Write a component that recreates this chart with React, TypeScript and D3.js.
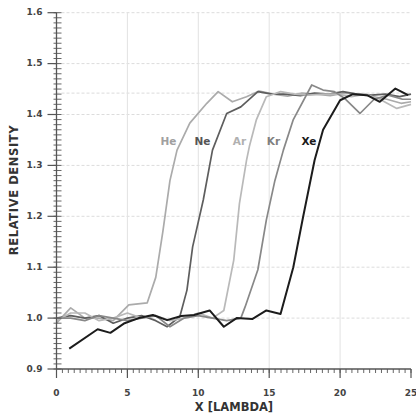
import * as d3 from 'd3'

// density profiles, [x, relative density]
const heData: [number, number][] = [
  [0, 0.99], [1, 1.02], [2, 1.0], [3, 1.0], [4, 0.995], [5.1, 1.026], [6.4, 1.03],
  [7, 1.08], [7.5, 1.17], [8, 1.27], [8.5, 1.33], [9.4, 1.383], [10.6, 1.422],
  [11.4, 1.445], [12.4, 1.425], [13.4, 1.435], [14.3, 1.446], [15.3, 1.44],
  [16.3, 1.436], [17.3, 1.442], [18.3, 1.44], [19.3, 1.437], [20.3, 1.442],
  [21.3, 1.44], [22.3, 1.435], [23.3, 1.43], [24.3, 1.422], [25, 1.425],
]
const neData: [number, number][] = [
  [0, 1.0], [1, 1.005], [2, 1.0], [3, 1.005], [4, 0.99], [5, 1.0], [6, 1.005],
  [7, 0.995], [7.8, 0.983], [8.7, 1.003], [9.2, 1.055], [9.6, 1.14], [10.35, 1.232],
  [11, 1.33], [12, 1.402], [13, 1.415], [14.2, 1.445], [15.2, 1.44], [16.2, 1.44],
  [17.2, 1.437], [18.2, 1.442], [19.2, 1.44], [20.2, 1.445], [21.2, 1.44],
  [22.2, 1.438], [23.2, 1.44], [24.2, 1.435], [25, 1.44],
]
const arData: [number, number][] = [
  [0, 0.995], [1, 1.01], [2, 1.01], [3, 0.995], [4, 1.0], [5, 1.01], [6, 1.0],
  [7, 1.005], [8, 0.995], [9, 1.0], [10, 1.01], [11, 1.0], [11.8, 1.015],
  [12.5, 1.114], [12.9, 1.225], [13.4, 1.31], [13.6, 1.337], [14.1, 1.39],
  [14.8, 1.435], [15.8, 1.445], [16.8, 1.44], [17.8, 1.438], [18.8, 1.44],
  [19.8, 1.44], [20.8, 1.435], [21.8, 1.44], [22.8, 1.43], [24, 1.412], [25, 1.42],
]
const krData: [number, number][] = [
  [0, 1.0], [1, 1.0], [2, 0.995], [3, 1.005], [4, 1.0], [5, 0.995], [6, 1.0],
  [7, 1.005], [8, 0.983], [9, 1.0], [10, 1.005], [11, 1.0], [12, 0.995], [13, 1.0],
  [13.3, 1.022], [14.2, 1.095], [14.8, 1.193], [15.4, 1.27], [16, 1.33],
  [16.7, 1.39], [18, 1.458], [18.8, 1.448], [19.6, 1.445], [20.3, 1.432],
  [21.4, 1.402], [22.4, 1.43], [23.4, 1.438], [24.4, 1.43], [25, 1.43],
]
const xeData: [number, number][] = [
  [0.9, 0.94], [2.9, 0.978], [3.8, 0.971], [4.8, 0.99], [5.8, 1.0], [6.8, 1.006],
  [7.8, 0.996], [8.8, 1.004], [9.7, 1.006], [10.8, 1.015], [11.8, 0.983],
  [12.7, 1.0], [13.8, 0.998], [14.8, 1.015], [15.8, 1.008], [16.7, 1.1],
  [17.4, 1.2], [18.2, 1.31], [18.8, 1.37], [20, 1.428], [20.9, 1.44],
  [21.9, 1.438], [22.8, 1.425], [23.9, 1.451], [24.8, 1.438],
]

const seriesNames = ['He', 'Ne', 'Ar', 'Kr', 'Xe']
const seriesData = [heData, neData, arData, krData, xeData]
const seriesColors = ['#ababab', '#5e5e5e', '#b9b9b9', '#888888', '#1c1c1c']
const labelColors = ['#a0a0a0', '#555555', '#b0b0b0', '#808080', '#1a1a1a']
// label positions in data units
const labelX = [7.9, 10.3, 12.9, 15.3, 17.8]
const labelY = 1.345

const xTicks = [0, 5, 10, 15, 20, 25]
const yTicks = [0.9, 1.0, 1.1, 1.2, 1.3, 1.4, 1.5, 1.6]
const refLevel = 1.442

const App = () => {
  const width = 416
  const height = 416

  const x = d3.scaleLinear().domain([0, 25]).range([56.5, 411])
  const y = d3.scaleLinear().domain([0.9, 1.6]).range([369, 12.7])

  const line = d3
    .line<[number, number]>()
    .x((d) => x(d[0]))
    .y((d) => y(d[1]))

  const xMinor = d3.range(0, 25.001, 5 / 12)
  const yMinor = d3.range(0.9, 1.6001, 0.01)
  const font = 'DejaVu Sans, Verdana, sans-serif'

  return (
    <svg
      width={width}
      height={height}
      style={{ position: 'absolute', left: 0, top: 0, background: '#fff' }}
    >
      {/* grid */}
      {yTicks.slice(1).map((t) => (
        <line
          key={'gy' + t}
          x1={x(0)}
          x2={x(25)}
          y1={y(t)}
          y2={y(t)}
          stroke="#dcdcdc"
          strokeDasharray="3,2"
        />
      ))}
      <line x1={x(0)} x2={x(25)} y1={y(refLevel)} y2={y(refLevel)} stroke="#dcdcdc" strokeDasharray="3,2" />
      {xTicks.slice(1, -1).map((t) => (
        <line key={'gx' + t} x1={x(t)} x2={x(t)} y1={y(1.6)} y2={y(0.9)} stroke="#e2e2e2" />
      ))}

      {/* curves */}
      {seriesData.map((d, i) => (
        <path
          key={seriesNames[i]}
          d={line(d) ?? ''}
          fill="none"
          stroke={seriesColors[i]}
          strokeWidth={i === 4 ? 2 : 1.7}
          strokeLinejoin="round"
        />
      ))}

      {/* series labels */}
      {seriesNames.map((n, i) => (
        <text
          key={'l' + n}
          x={x(labelX[i])}
          y={y(labelY)}
          textAnchor="middle"
          dominantBaseline="middle"
          fontFamily={font}
          fontWeight="bold"
          fontSize={10.5}
          fill={labelColors[i]}
        >
          {n}
        </text>
      ))}

      {/* axes */}
      <g stroke="#555" fill="none">
        <line x1={x(0)} x2={x(0)} y1={y(1.6)} y2={y(0.9)} strokeWidth={1.3} />
        <line x1={x(0)} x2={x(25)} y1={y(0.9)} y2={y(0.9)} strokeWidth={1.3} />
        {yMinor.map((t) => (
          <line key={'ym' + t} x1={x(0) - 3} x2={x(0) + 5} y1={y(t)} y2={y(t)} strokeWidth={0.9} />
        ))}
        {yTicks.map((t) => (
          <line key={'yt' + t} x1={x(0) - 9} x2={x(0)} y1={y(t)} y2={y(t)} strokeWidth={1.2} />
        ))}
        {xMinor.map((t) => (
          <line key={'xm' + t} x1={x(t)} x2={x(t)} y1={y(0.9)} y2={y(0.9) + 4} strokeWidth={0.9} />
        ))}
        {xTicks.map((t) => (
          <line key={'xt' + t} x1={x(t)} x2={x(t)} y1={y(0.9)} y2={y(0.9) + 9} strokeWidth={1.2} />
        ))}
      </g>

      {yTicks.map((t) => (
        <text
          key={'yl' + t}
          x={x(0) - 14}
          y={y(t)}
          textAnchor="end"
          dominantBaseline="middle"
          fontFamily={font}
          fontWeight="bold"
          fontSize={9}
          fill="#444"
        >
          {t.toFixed(1)}
        </text>
      ))}
      {xTicks.map((t) => (
        <text
          key={'xl' + t}
          x={x(t)}
          y={393}
          textAnchor="middle"
          dominantBaseline="middle"
          fontFamily={font}
          fontWeight="bold"
          fontSize={9}
          fill="#444"
        >
          {t}
        </text>
      ))}

      <text
        x={234}
        y={407}
        textAnchor="middle"
        dominantBaseline="middle"
        fontFamily={font}
        fontWeight="bold"
        fontSize={11.5}
        fill="#333"
      >
        X [LAMBDA]
      </text>
      <text
        transform={`translate(14,190) rotate(-90)`}
        textAnchor="middle"
        dominantBaseline="middle"
        fontFamily={font}
        fontWeight="bold"
        fontSize={11.5}
        letterSpacing={0.6}
        fill="#333"
      >
        RELATIVE DENSITY
      </text>
    </svg>
  )
}

export default App
